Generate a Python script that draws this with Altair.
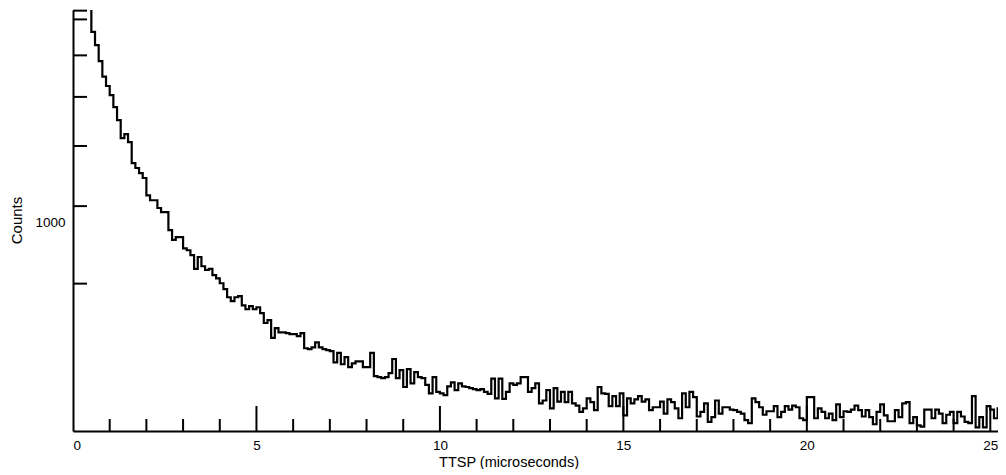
import altair as alt
import pandas as pd

# ---- data (0.1 us bins, first bin above the plotted range) ----
first_bin = 0.4
bin_width = 0.1
counts = [
    2300,
    1910, 1818, 1713, 1617, 1562, 1510, 1444, 1376, 1287, 1306,
    1268, 1173, 1152, 1130, 1110, 1041, 1022, 1022, 993, 978,
    978, 915, 882, 891, 891, 855, 849, 834, 792, 828,
    800, 789, 792, 774, 765, 751, 735, 713, 703, 713,
    716, 692, 682, 690, 682, 687, 672, 648, 655, 613,
    636, 626, 626, 624, 622, 622, 617, 624, 590, 588,
    592, 603, 592, 588, 586, 584, 560, 580, 556, 571,
    550, 558, 562, 562, 550, 550, 580, 532, 530, 528,
    530, 538, 567, 528, 544, 511, 546, 518, 540, 530,
    528, 515, 499, 530, 502, 499, 496, 512, 520, 505,
    518, 512, 511, 509, 507, 505, 507, 502, 498, 527,
    490, 527, 489, 502, 518, 515, 518, 530, 530, 502,
    509, 518, 481, 486, 505, 472, 509, 484, 502, 483,
    502, 481, 477, 466, 472, 490, 483, 469, 511, 499,
    498, 476, 494, 476, 499, 460, 490, 481, 488, 494,
    484, 488, 469, 474, 474, 484, 463, 488, 483, 472,
    455, 499, 474, 502, 492, 458, 466, 481, 449, 457,
    486, 463, 474, 474, 470, 469, 466, 463, 452, 447,
    490, 483, 474, 461, 467, 467, 476, 457, 466, 476,
    470, 477, 474, 455, 452, 492, 492, 455, 472, 466,
    455, 463, 452, 479, 457, 467, 466, 470, 477, 469,
    458, 469, 457, 445, 466, 479, 460, 450, 450, 469,
    457, 481, 483, 447, 457, 443, 441, 470, 470, 455,
    470, 463, 447, 461, 466, 447, 466, 458, 449, 447,
    494, 440, 457, 440, 476, 470, 455, 472, 472,
]

x_domain = [0, 25.21]
y_domain = [434, 2071]
x_label_values = [0, 5, 10, 15, 20, 25]
x_minor_ticks = [1, 2, 3, 4, 6, 7, 8, 9, 11, 12, 13, 14, 16, 17, 18, 19, 21, 22, 23, 24]
x_major_ticks = [5, 10, 15, 20, 25]
y_ticks = [750, 1000, 1250, 1500, 1750, 2000, 2066]
y_label_values = [1000]

starts = [round(first_bin + bin_width * i, 2) for i in range(len(counts))]
# closing point so the last bin is drawn to its right edge
starts.append(round(first_bin + bin_width * len(counts), 2))
vals = counts + [counts[-1]]
hist = pd.DataFrame({"t": starts, "c": vals})

W, H = 925, 421

xscale = alt.Scale(domain=x_domain, nice=False, zero=False)
yscale = alt.Scale(type="log", domain=y_domain, nice=False)

xaxis = alt.Axis(values=x_label_values, title="TTSP (microseconds)", labelPadding=7,
                 titleX=435.5, titleY=35, titleBaseline="alphabetic", titleAlign="center",
                 titleFontSize=14.5)
yaxis = alt.Axis(values=y_label_values, title="Counts", labelPadding=8, labelOffset=16,
                 format="d",
                 titleX=-57, titleY=210, titleAngle=270, titleBaseline="middle",
                 titleAlign="center")

line = alt.Chart(hist).mark_line(
    interpolate="step-after", color="black", strokeWidth=2.2, clip=True
).encode(
    x=alt.X("t:Q", scale=xscale, axis=xaxis),
    y=alt.Y("c:Q", scale=yscale, axis=yaxis),
)

ytick_df = pd.DataFrame({"v": y_ticks})
yticks = alt.Chart(ytick_df).mark_rule(color="black", strokeWidth=2).encode(
    y=alt.Y("v:Q", scale=yscale, axis=yaxis),
    x=alt.value(0),
    x2=alt.value(14),
)

minor_df = pd.DataFrame({"t": x_minor_ticks})
xminor = alt.Chart(minor_df).mark_rule(color="black", strokeWidth=2).encode(
    x=alt.X("t:Q", scale=xscale, axis=xaxis),
    y=alt.value(H),
    y2=alt.value(H - 12),
)

major_df = pd.DataFrame({"t": x_major_ticks})
xmajor = alt.Chart(major_df).mark_rule(color="black", strokeWidth=2).encode(
    x=alt.X("t:Q", scale=xscale, axis=xaxis),
    y=alt.value(H),
    y2=alt.value(H - 25),
)

chart = alt.layer(line, yticks, xminor, xmajor).properties(
    width=W, height=H,
    padding={"left": 65, "top": 2, "right": 0, "bottom": 38},
    autosize="none",
    background="white",
).configure_view(
    stroke=None
).configure_axis(
    domainColor="black", domainWidth=2, ticks=False, tickSize=0, grid=False,
    labelFont="Liberation Sans", labelFontSize=13.5, labelColor="black",
    titleFont="Liberation Sans", titleFontSize=15, titleColor="black",
    titleFontWeight="normal",
)

chart.save("out.html", embed_options={"renderer": "svg", "actions": False})
